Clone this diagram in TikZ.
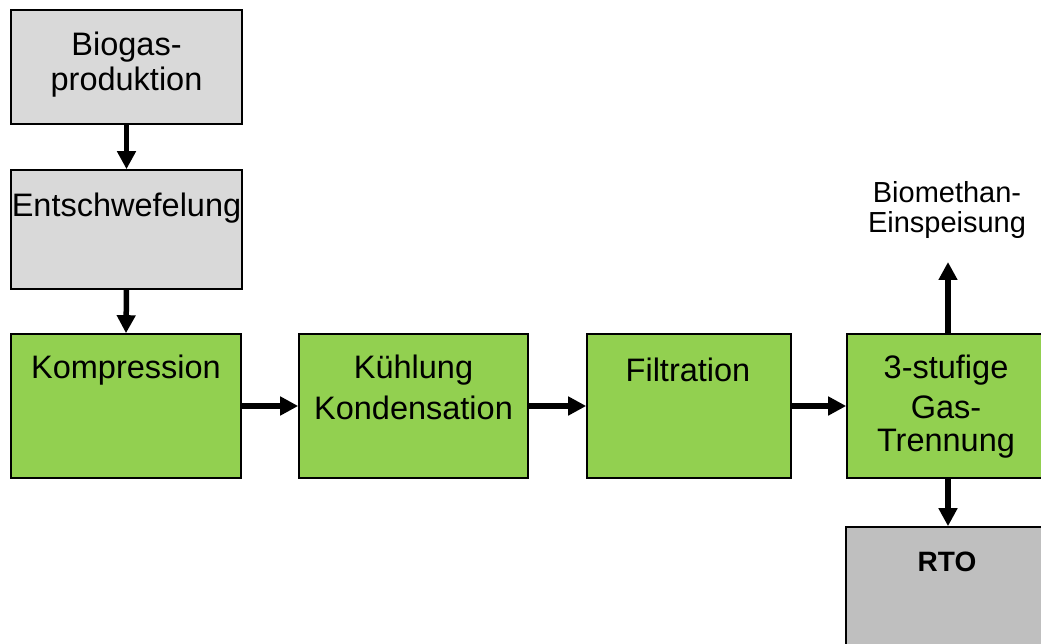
\documentclass[tikz,border=0pt]{standalone}
\usepackage{fontspec}
\setmainfont{Liberation Sans}
\usetikzlibrary{arrows.meta}
\definecolor{boxgray}{HTML}{D9D9D9}
\definecolor{boxgreen}{HTML}{92D050}
\definecolor{rtogray}{HTML}{BFBFBF}
\tikzset{
  box/.style={draw=black, line width=1.6pt, rectangle, inner sep=0pt},
  txt/.style={inner sep=0pt, font=\fontsize{32.5}{38}\selectfont},
  smalltxt/.style={inner sep=0pt, font=\fontsize{29}{33}\selectfont},
  flow/.style={line width=5.5pt, -{Triangle[width=18pt,length=18pt]}},
}
\begin{document}
\begin{tikzpicture}[x=1pt,y=-1pt]
\useasboundingbox (0,0) rectangle (1041,644);
\clip (0,0) rectangle (1041,644);
\fill[white] (0,0) rectangle (1041,644);
% boxes
\node[box, fill=boxgray, minimum width=231pt, minimum height=114pt] (bio) at (126.5,67) {};
\node[box, fill=boxgray, minimum width=231pt, minimum height=119pt] (ent) at (126.5,229.5) {};
\node[box, fill=boxgreen, minimum width=230pt, minimum height=144pt] (komp) at (126,406) {};
\node[box, fill=boxgreen, minimum width=229pt, minimum height=144pt] (kuehl) at (413.5,406) {};
\node[box, fill=boxgreen, minimum width=204pt, minimum height=144pt] (filt) at (689,406) {};
\node[box, fill=boxgreen, minimum width=202pt, minimum height=144pt] (trenn) at (948,406) {};
\node[box, fill=rtogray, minimum width=204pt, minimum height=130pt] (rto) at (948,592) {};
% texts
\node[txt] (t1a) at (126.5,47) {Biogas-};
\node[txt] (t1b) at (126.5,82) {produktion};
\node[txt] (t2) at (126.5,208) {Entschwefelung};
\node[txt] (t3) at (126,370) {Kompression};
\node[txt] (t4a) at (413.5,370) {Kühlung};
\node[txt] (t4b) at (413.5,408) {Kondensation};
\node[txt] (t5) at (688,370) {Filtration};
\node[txt] (t6a) at (946,370) {3-stufige};
\node[txt] (t6b) at (946,407) {Gas-};
\node[txt] (t6c) at (946,444) {Trennung};
\node[inner sep=0pt, font=\fontsize{28}{32}\selectfont\bfseries] (t7) at (947,562) {RTO};
\node[smalltxt] (bm1) at (947,192) {Biomethan-};
\node[smalltxt] (bm2) at (947,225) {Einspeisung};
\coordinate (out) at (948,262);
% connectors
\draw[flow] (bio.south) -- (ent.north);
\draw[flow] (ent.south) -- (komp.north);
\draw[flow] (komp.east) -- (kuehl.west);
\draw[flow] (kuehl.east) -- (filt.west);
\draw[flow] (filt.east) -- (trenn.west);
\draw[flow] (trenn.north) -- (out);
\draw[flow] (trenn.south) -- (rto.north);
\end{tikzpicture}
\end{document}
